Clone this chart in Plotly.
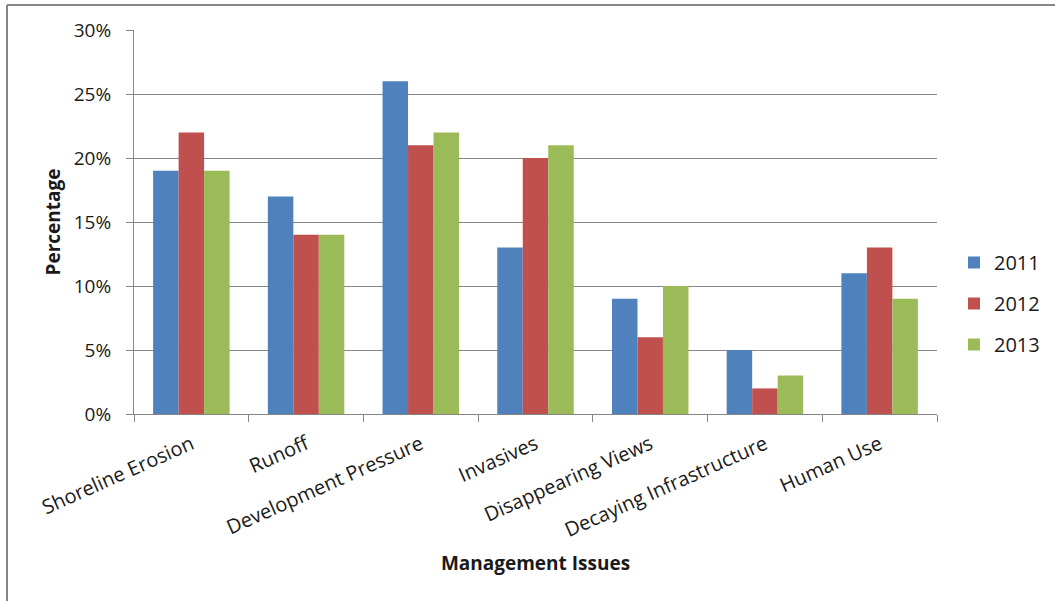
import plotly.graph_objects as go

categories = [
    "Shoreline Erosion", "Runoff", "Development Pressure", "Invasives",
    "Disappearing Views", "Decaying Infrastructure", "Human Use",
]
years = ["2011", "2012", "2013"]
values_2011 = [19, 17, 26, 13, 9, 5, 11]
values_2012 = [22, 14, 21, 20, 6, 2, 13]
values_2013 = [19, 14, 22, 21, 10, 3, 9]
y_ticks = [0, 5, 10, 15, 20, 25, 30]
y_tick_labels = ["0%", "5%", "10%", "15%", "20%", "25%", "30%"]

colors = ["#4F81BD", "#C0504D", "#9BBB59"]
series = [values_2011, values_2012, values_2013]

W, H = 1055, 601
L, R, T, B = 134, 118, 30, 187
FONT = "Open Sans"
GRAY = "#868686"
TEXT = "#1a1a1a"

fig = go.Figure()
for name, vals, col in zip(years, series, colors):
    fig.add_trace(go.Bar(
        x=categories, y=vals, name=name,
        marker=dict(color=col, line=dict(width=0)),
        legendgroup=name,
    ))

# outer chart frame (top and left edges)
pw, ph = W - L - R, H - T - B
def px_x(x):
    return (x - L) / pw
def px_y(y):
    return (H - B - y) / ph

frame = dict(color=GRAY, width=2)
fig.add_shape(type="line", xref="paper", yref="paper",
              x0=px_x(7), x1=px_x(W + 5), y0=px_y(5), y1=px_y(5), line=frame)
fig.add_shape(type="line", xref="paper", yref="paper",
              x0=px_x(7), x1=px_x(7), y0=px_y(5), y1=px_y(H + 5), line=frame)

fig.update_layout(
    width=W, height=H,
    margin=dict(l=L, r=R, t=T, b=B, autoexpand=False),
    paper_bgcolor="white", plot_bgcolor="white",
    font=dict(family=FONT, size=19, color=TEXT),
    barmode="group", bargap=1.5 / 4.5, bargroupgap=0,
    showlegend=True,
    legend=dict(
        x=px_x(954), y=px_y(243), xanchor="left", yanchor="top",
        font=dict(family=FONT, size=20, color=TEXT),
        traceorder="grouped", tracegroupgap=12,
        bgcolor="rgba(0,0,0,0)",
    ),
    xaxis=dict(
        showline=True, linecolor=GRAY, linewidth=1,
        ticks="outside", ticklen=7, tickcolor=GRAY, tickson="boundaries",
        tickangle=-24, tickfont=dict(family=FONT, size=20, color=TEXT),
        ticklabelstandoff=10,
        showgrid=False,
        title=dict(text="<b>Management Issues</b>",
                   font=dict(family=FONT, size=19, color=TEXT), standoff=14),
    ),
    yaxis=dict(
        range=[0, 30], tickmode="array", tickvals=y_ticks, ticktext=y_tick_labels,
        showline=True, linecolor=GRAY, linewidth=1,
        ticks="outside", ticklen=7, tickcolor=GRAY,
        ticklabelstandoff=11,
        showgrid=True, gridcolor=GRAY, gridwidth=1,
        zeroline=False, tickfont=dict(family=FONT, size=19, color=TEXT),
        title=dict(text="<b>Percentage</b>",
                   font=dict(family=FONT, size=19, color=TEXT), standoff=8),
    ),
)

fig.write_html("out.html")
